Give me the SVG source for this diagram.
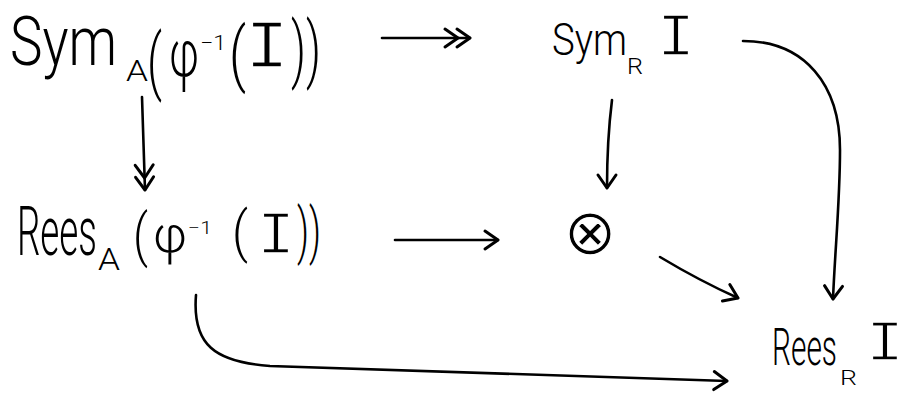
<svg xmlns="http://www.w3.org/2000/svg" width="906" height="396" viewBox="0 0 906 396">
  <style>
    .t { font-family: Roboto, "Liberation Sans", sans-serif; font-weight: 300; fill: #000; }
    /* serif capital I, slimmed with a thin white outline */
    .i { font-family: "Liberation Mono", "Courier New", monospace; fill: #000; stroke: #fff; stroke-width: 1.6; }
    .op { font-family: "DejaVu Sans", sans-serif; fill: #000; stroke: #fff; stroke-width: 1.2; }
    .edge { fill: none; stroke: #000; stroke-width: 2.6; stroke-linecap: round; stroke-linejoin: round; }
  </style>
  <defs>
    <marker id="head" viewBox="-16 -12 20 24" refX="0" refY="0" markerWidth="20" markerHeight="24" markerUnits="userSpaceOnUse" orient="auto">
      <path d="M-13,-9 L0,0 L-13,9" fill="none" stroke="#000" stroke-width="3" stroke-linecap="round" stroke-linejoin="round"/>
    </marker>
    <marker id="head2" viewBox="-28 -12 32 24" refX="0" refY="0" markerWidth="32" markerHeight="24" markerUnits="userSpaceOnUse" orient="auto">
      <path d="M-13,-9 L0,0 L-13,9 M-25,-9 L-12,0 L-25,9" fill="none" stroke="#000" stroke-width="3" stroke-linecap="round" stroke-linejoin="round"/>
    </marker>
  </defs>
  <rect width="906" height="396" fill="#fff"/>

  <!-- Sym_A(φ^-1(I)) -->
  <g id="symA">
    <text class="t" x="10" y="65" font-size="68" textLength="107" lengthAdjust="spacingAndGlyphs">Sym</text>
    <text class="t" x="126" y="81" font-size="30" textLength="22" lengthAdjust="spacingAndGlyphs">A</text>
    <text class="t" x="147" y="86" font-size="72" textLength="15" lengthAdjust="spacingAndGlyphs">(</text>
    <text class="t" x="169" y="76" font-size="66" textLength="30" lengthAdjust="spacingAndGlyphs">φ</text>
    <text class="t" x="200" y="50" font-size="20" textLength="26" lengthAdjust="spacingAndGlyphs">−1</text>
    <text class="t" x="229" y="78" font-size="70" textLength="17" lengthAdjust="spacingAndGlyphs">(</text>
    <text class="i" x="245" y="67" font-size="68" textLength="44" lengthAdjust="spacingAndGlyphs">I</text>
    <text class="t" x="291" y="74" font-size="72" textLength="30" lengthAdjust="spacingAndGlyphs">))</text>
  </g>

  <!-- Sym_R I -->
  <g id="symR">
    <text class="t" x="552" y="55" font-size="45" textLength="75" lengthAdjust="spacingAndGlyphs">Sym</text>
    <text class="t" x="627" y="74" font-size="22" textLength="16" lengthAdjust="spacingAndGlyphs">R</text>
    <text class="i" x="657" y="55" font-size="62" textLength="38" lengthAdjust="spacingAndGlyphs">I</text>
  </g>

  <!-- Rees_A(φ^-1(I)) -->
  <g id="reesA">
    <text class="t" x="17" y="255" font-size="68" textLength="80" lengthAdjust="spacingAndGlyphs">Rees</text>
    <text class="t" x="98" y="270" font-size="32" textLength="22" lengthAdjust="spacingAndGlyphs">A</text>
    <text class="t" x="133" y="255" font-size="58" textLength="15" lengthAdjust="spacingAndGlyphs">(</text>
    <text class="t" x="153" y="252" font-size="52" textLength="34" lengthAdjust="spacingAndGlyphs">φ</text>
    <text class="t" x="188" y="234" font-size="19" textLength="24" lengthAdjust="spacingAndGlyphs">−1</text>
    <text class="t" x="232" y="251" font-size="56" textLength="16" lengthAdjust="spacingAndGlyphs">(</text>
    <text class="i" x="257" y="253" font-size="62" textLength="38" lengthAdjust="spacingAndGlyphs">I</text>
    <text class="t" x="297" y="252" font-size="62" textLength="24" lengthAdjust="spacingAndGlyphs">))</text>
  </g>

  <!-- tensor product -->
  <g id="tensor">
    <text class="op" x="590" y="254" font-size="64" text-anchor="middle">⊗</text>
  </g>

  <!-- Rees_R I -->
  <g id="reesR">
    <text class="t" x="772" y="365" font-size="52" textLength="65" lengthAdjust="spacingAndGlyphs">Rees</text>
    <text class="t" x="840" y="385" font-size="21" textLength="17" lengthAdjust="spacingAndGlyphs">R</text>
    <text class="i" x="866" y="360" font-size="58" textLength="38" lengthAdjust="spacingAndGlyphs">I</text>
  </g>

  <!-- maps between the nodes -->
  <g id="connectors">
    <path class="edge" d="M382,38 L470,38" marker-end="url(#head2)"/>
    <path class="edge" d="M142,97 L145,190" marker-end="url(#head2)"/>
    <path class="edge" d="M612,100 Q607,140 607,188" marker-end="url(#head)"/>
    <path class="edge" d="M395,240 L498,240" marker-end="url(#head)"/>
    <path class="edge" d="M660,257 Q700,281 738,298" marker-end="url(#head)"/>
    <path class="edge" d="M743,41 C805,41 840,85 840,150 C840,200 835,250 833,299" marker-end="url(#head)"/>
    <path class="edge" d="M196,295 C192,345 215,362 270,366 L727,381" marker-end="url(#head)"/>
  </g>
</svg>
